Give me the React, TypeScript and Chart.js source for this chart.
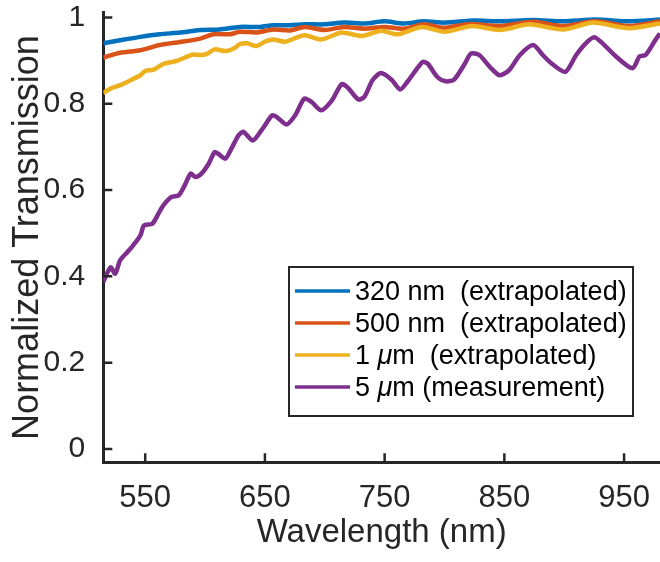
import React, { useEffect, useRef } from "react";
import { Chart, registerables } from "chart.js";

Chart.register(...registerables);

// ---------- data ----------
const xTicks = [550, 650, 750, 850, 950];
const yTicks = [0, 0.2, 0.4, 0.6, 0.8, 1];

const seriesLabels = [
  "320 nm  (extrapolated)",
  "500 nm  (extrapolated)",
  "1 μm  (extrapolated)",
  "5 μm (measurement)",
];
const seriesColors = ["#0072BD", "#D95319", "#EDB120", "#7E2F8E"];

const wl320 = [515, 529, 546, 562, 579, 596, 612, 629, 646, 657, 671, 683, 700, 716, 733, 750, 766, 783, 800, 825, 846, 874, 899, 926, 954, 980];
const t320 = [0.94, 0.947, 0.955, 0.961, 0.965, 0.971, 0.972, 0.978, 0.978, 0.982, 0.982, 0.984, 0.984, 0.988, 0.986, 0.991, 0.986, 0.991, 0.988, 0.993, 0.991, 0.994, 0.991, 0.995, 0.991, 0.995];

const wl500 = [515, 529, 546, 562, 579, 596, 607, 621, 629, 643, 657, 671, 683, 700, 716, 733, 750, 766, 783, 800, 821, 846, 874, 899, 926, 954, 980];
const t500 = [0.907, 0.918, 0.924, 0.936, 0.943, 0.951, 0.961, 0.961, 0.967, 0.965, 0.972, 0.97, 0.978, 0.971, 0.978, 0.974, 0.978, 0.974, 0.984, 0.976, 0.985, 0.98, 0.99, 0.98, 0.991, 0.98, 0.991];

const wl1um = [515, 521, 529, 538, 546, 550, 557, 565, 576, 585, 590, 596, 601, 608, 617, 624, 629, 635, 643, 651, 657, 667, 683, 697, 714, 731, 747, 761, 781, 800, 823, 846, 871, 899, 924, 954, 980];
const t1um = [0.825, 0.835, 0.843, 0.855, 0.866, 0.876, 0.879, 0.892, 0.899, 0.909, 0.914, 0.913, 0.915, 0.926, 0.922, 0.928, 0.938, 0.94, 0.934, 0.945, 0.949, 0.944, 0.959, 0.949, 0.965, 0.957, 0.969, 0.961, 0.978, 0.967, 0.98, 0.971, 0.984, 0.972, 0.988, 0.975, 0.986];

const wl5um = [515, 521, 525, 529, 535, 540, 546, 549, 556, 561, 565, 572, 578, 583, 588, 592, 597, 603, 608, 611, 617, 622, 628, 632, 640, 649, 656, 660, 668, 675, 683, 689, 697, 706, 714, 719, 728, 733, 740, 747, 756, 763, 769, 778, 782, 786, 794, 801, 808, 817, 822, 829, 838, 846, 854, 863, 874, 882, 890, 901, 910, 918, 925, 932, 943, 957, 963, 968, 976, 980];
const t5um = [0.387, 0.421, 0.406, 0.437, 0.456, 0.472, 0.495, 0.518, 0.522, 0.545, 0.564, 0.584, 0.588, 0.611, 0.638, 0.63, 0.638, 0.661, 0.688, 0.684, 0.673, 0.696, 0.727, 0.735, 0.715, 0.746, 0.773, 0.769, 0.752, 0.772, 0.812, 0.804, 0.785, 0.808, 0.845, 0.838, 0.81, 0.816, 0.855, 0.871, 0.855, 0.833, 0.851, 0.885, 0.897, 0.893, 0.862, 0.852, 0.856, 0.893, 0.916, 0.913, 0.885, 0.866, 0.878, 0.913, 0.936, 0.913, 0.892, 0.874, 0.913, 0.94, 0.954, 0.94, 0.91, 0.882, 0.91, 0.913, 0.947, 0.963];

const seriesX = [wl320, wl500, wl1um, wl5um];
const seriesY = [t320, t500, t1um, t5um];

// ---------- styling ----------
const FONT = "'Liberation Sans', Arial, Helvetica, sans-serif";
const AXIS = "#262626";

const innerTicks = {
  id: "innerTicks",
  afterDatasetsDraw(chart: any) {
    const { ctx, chartArea } = chart;
    const x = chart.scales.x;
    const y = chart.scales.y;
    ctx.save();
    ctx.strokeStyle = AXIS;
    ctx.lineWidth = 2.5;
    ctx.beginPath();
    x.ticks.forEach((t: any) => {
      const px = x.getPixelForValue(t.value);
      ctx.moveTo(px, chartArea.bottom);
      ctx.lineTo(px, chartArea.bottom - 9);
    });
    y.ticks.forEach((t: any) => {
      const py = y.getPixelForValue(t.value);
      ctx.moveTo(chartArea.left, py);
      ctx.lineTo(chartArea.left + 9, py);
    });
    ctx.stroke();
    ctx.restore();
  },
};

function drawLabel(ctx: CanvasRenderingContext2D, text: string, x: number, y: number, size: number) {
  const parts = text.split("μ");
  let cx = x;
  parts.forEach((p, i) => {
    ctx.font = `${size}px ${FONT}`;
    ctx.fillText(p, cx, y);
    cx += ctx.measureText(p).width;
    if (i < parts.length - 1) {
      ctx.font = `italic ${size}px ${FONT}`;
      ctx.fillText("μ", cx, y);
      cx += ctx.measureText("μ").width;
    }
  });
}

const boxLegend = {
  id: "boxLegend",
  afterDraw(chart: any) {
    const ctx: CanvasRenderingContext2D = chart.ctx;
    const L = 289, T = 267, R = 633, B = 416;
    ctx.save();
    ctx.fillStyle = "#ffffff";
    ctx.fillRect(L, T, R - L, B - T);
    ctx.strokeStyle = AXIS;
    ctx.lineWidth = 2;
    ctx.strokeRect(L, T, R - L, B - T);
    chart.data.datasets.forEach((ds: any, i: number) => {
      const rowY = 291 + i * 32;
      ctx.strokeStyle = ds.borderColor;
      ctx.lineWidth = 3.5;
      ctx.beginPath();
      ctx.moveTo(295, rowY);
      ctx.lineTo(350, rowY);
      ctx.stroke();
      ctx.fillStyle = "#000000";
      ctx.textBaseline = "alphabetic";
      ctx.textAlign = "left";
      drawLabel(ctx, ds.label, 355, rowY + 9, 27);
    });
    ctx.restore();
  },
};

export default function App() {
  const ref = useRef<HTMLCanvasElement>(null);

  useEffect(() => {
    if (!ref.current) return;
    const datasets = seriesLabels.map((label, i) => ({
      label,
      data: seriesX[i].map((x, j) => ({ x, y: seriesY[i][j] })),
      borderColor: seriesColors[i],
      backgroundColor: seriesColors[i],
      borderWidth: 4.5,
      pointRadius: 0,
      tension: 0.25,
      fill: false,
      order: seriesLabels.length - i,
    }));

    const chart = new Chart(ref.current, {
      type: "line",
      data: { datasets },
      options: {
        animation: false,
        responsive: true,
        maintainAspectRatio: false,
        layout: { padding: { top: 12.7, left: 0, right: 0, bottom: 0 } },
        plugins: {
          legend: { display: false },
          tooltip: { enabled: false },
        },
        scales: {
          x: {
            type: "linear",
            min: 515,
            max: 980,
            afterBuildTicks: (s: any) => {
              s.ticks = xTicks.map((v) => ({ value: v }));
            },
            afterFit: (s: any) => {
              s.height = 99.7;
              s.paddingLeft = 0;
              s.paddingRight = 0;
            },
            grid: { display: false },
            border: { display: true, color: AXIS, width: 3 },
            ticks: {
              color: AXIS,
              font: { size: 31, family: FONT },
              padding: 10,
              maxRotation: 0,
              autoSkip: false,
              callback: (v: any) => String(v),
            },
            title: {
              display: true,
              text: "Wavelength (nm)",
              color: AXIS,
              font: { size: 33, family: FONT },
              padding: { top: 0, bottom: 9 },
            },
          },
          y: {
            type: "linear",
            min: -0.031,
            max: 1.011,
            afterBuildTicks: (s: any) => {
              s.ticks = yTicks.map((v) => ({ value: v }));
            },
            afterFit: (s: any) => {
              s.width = 103.3;
              s.paddingTop = 0;
              s.paddingBottom = 0;
            },
            grid: { display: false },
            border: { display: true, color: AXIS, width: 3 },
            ticks: {
              color: AXIS,
              font: { size: 30, family: FONT },
              padding: 10,
              autoSkip: false,
              callback: (v: any) => String(Math.round(Number(v) * 10) / 10),
            },
            title: {
              display: true,
              text: "Normalized Transmission",
              color: AXIS,
              font: { size: 36, family: FONT },
              padding: { top: 6, bottom: 0 },
            },
          },
        },
      },
      plugins: [innerTicks, boxLegend],
    });
    return () => chart.destroy();
  }, []);

  return (
    <div style={{ position: "fixed", left: 0, top: 0, width: 660, height: 562, background: "#ffffff" }}>
      <canvas ref={ref} />
    </div>
  );
}
